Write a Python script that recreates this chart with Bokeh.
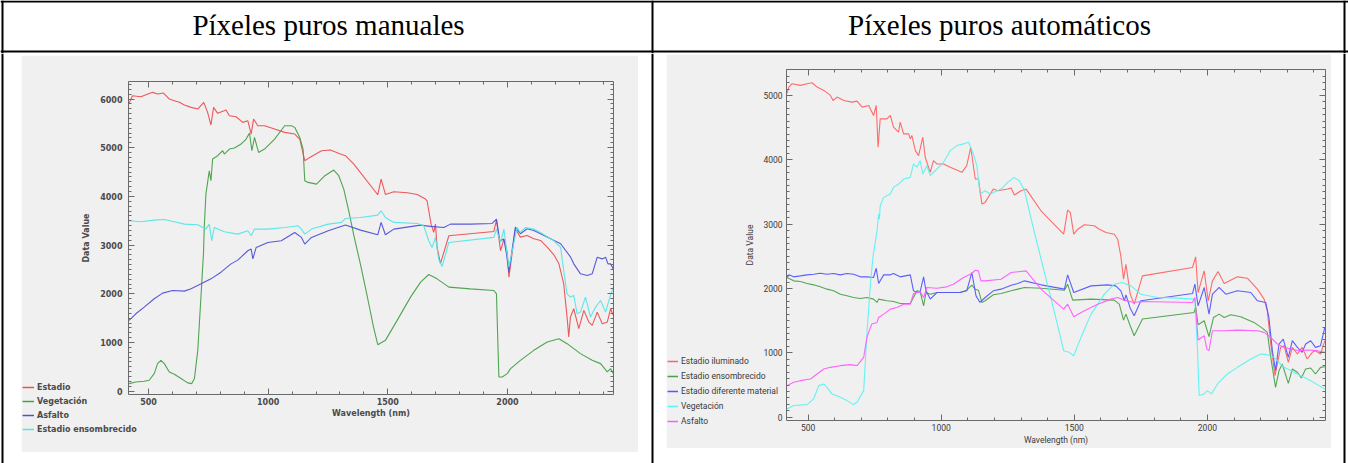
from bokeh.plotting import figure
from bokeh.models import (Range1d, Span, Label, Legend, LegendItem, LinearAxis, GridBox,
                          SingleIntervalTicker, CustomJSTickFormatter, Spacer)
from bokeh.layouts import row, column
from bokeh.embed import file_html
from bokeh.resources import INLINE

# ---------------- data (wavelength nm, data value) ----------------
HEADER_LEFT = "Píxeles puros manuales"
HEADER_RIGHT = "Píxeles puros automáticos"

L_NAMES = ["Estadio", "Vegetación", "Asfalto", "Estadio ensombrecido"]
R_NAMES = ["Estadio iluminado", "Estadio ensombrecido", "Estadio diferente material",
           "Vegetación", "Asfalto"]

L_ESTADIO = [(419,5911),(433,6068),(468,6048),(517,6137),(538,6103),(563,6123),(587,6000),(608,5966),
    (629,5932),(650,5877),(678,5829),(706,5795),(731,5932),(747,5726),(761,5466),(772,5829),(789,5706),
    (824,5774),(838,5658),(866,5637),(894,5521),(915,5555),(929,5281),(939,5589),(957,5452),(985,5452),
    (1027,5384),(1069,5315),(1111,5281),(1132,5178),(1153,4733),(1174,4801),(1223,4938),(1260,4952),
    (1302,4870),(1323,4836),(1358,4664),(1458,4034),(1472,4356),(1490,4041),(1525,4096),(1581,4075),
    (1623,4041),(1657,3945),(1664,3911),(1681,3425),(1692,3260),(1699,3432),(1706,2952),(1720,2620),
    (1755,3192),(1943,3281),(1954,3514),(1971,2884),(1985,3123),(1999,2849),(2006,2341),(2033,3336),
    (2054,3164),(2082,3198),(2110,3130),(2138,3096),(2166,2959),(2194,2800),(2215,2615),(2235,2205),
    (2249,1522),(2256,1112),(2263,1522),(2277,1693),(2298,1283),(2319,1659),(2340,1420),(2354,1351),
    (2375,1624),(2396,1385),(2417,1420),(2431,1693),(2442,1556)]

L_VEGETACION = [(419,156),(447,190),(482,204),(503,224),(524,361),(538,566),(552,634),(566,566),
    (587,395),(608,348),(636,259),(664,170),(681,156),(692,259),(706,839),(720,2000),(730,2850),
    (733,3363),(740,4048),(754,4527),(761,4322),(768,4767),(789,4836),(810,4938),(817,4870),(838,4973),
    (859,4993),(887,5075),(908,5178),(922,5300),(932,4938),(943,5212),(960,4904),(985,4973),(1027,5178),
    (1069,5452),(1097,5452),(1111,5418),(1132,5212),(1146,4973),(1153,4322),(1167,4288),(1202,4253),
    (1237,4425),(1274,4541),(1295,4425),(1316,4150),(1337,3700),(1358,3200),(1386,2600),(1414,1950),
    (1441,1300),(1458,955),(1490,1044),(1539,1454),(1595,1932),(1637,2239),(1671,2396),(1706,2307),
    (1755,2137),(1845,2102),(1943,2068),(1954,2000),(1964,292),(1978,292),(1999,361),(2013,463),
    (2054,634),(2110,839),(2166,1010),(2215,1078),(2249,976),(2305,771),(2354,634),(2389,566),
    (2417,395),(2431,463),(2442,361)]

L_ASFALTO = [(419,1454),(447,1590),(482,1727),(524,1898),(559,2014),(601,2068),(650,2055),(678,2102),
    (720,2205),(761,2307),(803,2444),(845,2615),(873,2692),(915,2884),(929,2918),(936,2717),(950,2952),
    (999,3055),(1055,3089),(1111,3260),(1139,3158),(1153,3021),(1181,3158),(1251,3294),(1323,3411),
    (1386,3308),(1458,3212),(1472,3466),(1490,3212),(1525,3329),(1637,3411),(1678,3384),(1734,3363),
    (1762,3431),(1845,3431),(1936,3445),(1954,3534),(1968,3089),(1985,3123),(1996,2815),(2006,2444),
    (2033,3370),(2054,3233),(2082,3336),(2110,3301),(2138,3233),(2180,3130),(2222,3028),(2263,2760),
    (2277,2615),(2305,2410),(2333,2376),(2354,2410),(2375,2751),(2396,2717),(2410,2751),(2420,2615),
    (2431,2615),(2442,2512)]

L_ENSOMBRECIDO = [(419,3500),(468,3479),(524,3514),(566,3527),(608,3479),(650,3431),(706,3418),
    (740,3329),(754,3431),(764,3089),(775,3363),(817,3274),(873,3226),(915,3294),(929,3192),(943,3329),
    (999,3329),(1069,3363),(1125,3397),(1139,3329),(1153,3226),(1181,3329),(1251,3431),(1307,3466),
    (1323,3548),(1386,3568),(1458,3616),(1472,3705),(1490,3568),(1525,3466),(1623,3445),(1650,3397),
    (1671,3089),(1685,2952),(1699,3158),(1713,2700),(1727,2560),(1755,3055),(1943,3158),(1954,3329),
    (1971,3055),(1985,3329),(2006,2546),(2040,3363),(2054,3260),(2075,3363),(2110,3329),(2138,3260),
    (2194,3089),(2222,2952),(2235,2478),(2249,2000),(2263,1932),(2277,1966),(2291,1590),(2305,1624),
    (2326,1932),(2347,1522),(2368,1727),(2389,1863),(2410,1624),(2428,1932),(2442,2137)]

R_ILUMINADO = [(421,5036),(428,5130),(440,5182),(471,5156),(496,5182),(515,5197),(534,5130),(559,5078),
    (584,5000),(594,4922),(609,4974),(634,4922),(665,4896),(684,4912),(703,4818),(728,4844),(746,4688),
    (756,4844),(763,4195),(771,4636),(796,4636),(809,4688),(821,4506),(840,4429),(846,4584),(859,4403),
    (878,4403),(884,4325),(890,4377),(903,4143),(915,4065),(921,4169),(931,4351),(940,4039),(959,3805),
    (971,3987),(984,3935),(1009,3935),(1034,3883),(1078,3805),(1096,3909),(1111,4195),(1128,3701),
    (1140,3701),(1153,3312),(1165,3338),(1196,3546),(1213,3519),(1250,3545),(1263,3561),(1275,3452),
    (1300,3519),(1319,3545),(1375,3208),(1460,2844),(1475,3218),(1485,3182),(1498,2844),(1513,2922),
    (1538,2990),(1575,2974),(1594,2922),(1619,2870),(1650,2844),(1663,2766),(1675,2500),(1685,2145),
    (1694,2377),(1710,1912),(1725,1757),(1756,2196),(1944,2326),(1956,2491),(1965,1938),(1988,2274),
    (2003,1809),(2019,2119),(2040,2264),(2063,2078),(2113,2181),(2150,2160),(2188,1990),(2213,1835),
    (2225,1654),(2238,1137),(2254,646),(2275,1085),(2288,1111),(2304,853),(2319,1085),(2338,982),
    (2356,1085),(2375,904),(2394,1008),(2406,1034),(2425,982),(2441,1189)]

R_ENSOMBRECIDO = [(421,2171),(446,2119),(471,2109),(496,2078),(521,2057),(546,2026),(571,1990),
    (596,1964),(621,1912),(646,1886),(671,1860),(696,1845),(721,1860),(746,1835),(759,1783),(765,1835),
    (796,1809),(821,1798),(846,1767),(884,1767),(896,1860),(909,1964),(921,1953),(934,1731),(943,1938),
    (959,1912),(984,1938),(1071,1938),(1096,1974),(1115,2052),(1128,1990),(1140,1974),(1153,1783),
    (1165,1809),(1196,1902),(1225,1922),(1263,1964),(1288,1990),(1313,2016),(1375,2005),(1463,1974),
    (1475,2067),(1494,1819),(1563,1835),(1650,1819),(1669,1757),(1685,1509),(1694,1602),(1710,1421),
    (1725,1266),(1756,1525),(1950,1628),(1956,1716),(1965,1437),(1988,1499),(2006,1251),(2023,1550),
    (2044,1602),(2063,1550),(2088,1592),(2125,1561),(2175,1473),(2206,1385),(2225,1318),(2238,930),
    (2256,465),(2269,723),(2281,827),(2304,527),(2319,749),(2338,698),(2353,610),(2369,749),(2388,765),
    (2406,672),(2425,775),(2441,785)]

R_DIFERENTE = [(421,2171),(428,2212),(446,2181),(471,2196),(496,2212),(521,2222),(546,2238),(571,2222),
    (596,2233),(621,2212),(646,2233),(671,2222),(696,2181),(721,2181),(746,2171),(756,2315),(765,2078),
    (784,2212),(809,2212),(821,2233),(846,2181),(884,2212),(896,1964),(909,1938),(921,1953),(934,2181),
    (943,1964),(959,1835),(984,1938),(1071,1938),(1096,1964),(1115,2248),(1131,1886),(1146,1783),
    (1165,1860),(1196,1964),(1225,1990),(1263,2052),(1288,2078),(1313,2119),(1375,2057),(1463,1990),
    (1475,2212),(1498,1938),(1563,2041),(1625,2057),(1656,2041),(1675,1964),(1688,1809),(1694,1902),
    (1710,1695),(1725,1576),(1750,1809),(1944,1922),(1953,2067),(1965,1731),(1988,2016),(2006,1602),
    (2019,1912),(2044,2016),(2069,1912),(2113,1964),(2163,1938),(2188,1809),(2219,1783),(2231,1550),
    (2244,1034),(2256,723),(2269,1137),(2285,1214),(2304,930),(2319,1189),(2338,1085),(2356,1008),
    (2369,1137),(2388,1189),(2406,1085),(2425,1111),(2441,1395)]

R_VEGETACION = [(421,129),(446,181),(496,196),(521,284),(540,491),(559,517),(571,465),(590,362),
    (621,310),(646,258),(671,196),(684,232),(709,413),(721,1292),(734,2067),(744,2500),(759,2896),
    (765,3156),(768,3078),(771,3286),(784,3416),(809,3468),(821,3571),(840,3623),(859,3701),(884,3727),
    (896,3935),(909,3883),(921,3987),(931,3779),(946,3909),(959,3753),(984,3857),(1009,3961),(1034,4143),
    (1059,4221),(1084,4247),(1103,4273),(1121,4091),(1134,3909),(1146,3468),(1165,3519),(1184,3468),
    (1225,3545),(1250,3649),(1273,3727),(1294,3675),(1313,3519),(1338,3080),(1363,2660),(1400,2050),
    (1438,1420),(1460,1034),(1481,1008),(1498,956),(1525,1240),(1563,1602),(1613,1912),(1650,2067),
    (1681,2093),(1713,2041),(1750,1912),(1813,1860),(1888,1850),(1953,1835),(1963,1034),(1969,336),
    (1988,362),(2000,413),(2015,362),(2038,517),(2075,672),(2113,775),(2163,904),(2200,982),(2225,972),
    (2250,930),(2288,775),(2338,672),(2388,568),(2419,491),(2441,439)]

R_ASFALTO = [(421,491),(446,543),(471,568),(509,594),(534,672),(559,749),(584,775),(621,801),(659,817),
    (684,801),(709,930),(721,1240),(739,1447),(759,1473),(765,1550),(784,1602),(809,1680),(834,1705),
    (859,1757),(884,1757),(896,1922),(909,1938),(921,1953),(934,1860),(946,2016),(984,2005),(1021,2026),
    (1046,2067),(1084,2171),(1115,2233),(1128,2284),(1140,2274),(1149,2119),(1165,2119),(1225,2145),
    (1263,2248),(1319,2274),(1375,1990),(1460,1680),(1475,1757),(1498,1561),(1538,1654),(1588,1757),
    (1638,1835),(1663,1860),(1688,1819),(1725,1783),(1750,1798),(1944,1783),(1953,1860),(1965,1199),
    (1988,1266),(1998,1059),(2006,1034),(2019,1344),(2063,1344),(2113,1354),(2188,1344),(2213,1318),
    (2238,1240),(2263,1137),(2288,1085),(2313,1059),(2344,1034),(2375,1044),(2413,1034),(2441,1008)]

L_SERIES = [L_ESTADIO, L_VEGETACION, L_ASFALTO, L_ENSOMBRECIDO]
L_COLORS = ["#ec5052", "#47a047", "#5050dc", "#55e6e6"]
R_SERIES = [R_ILUMINADO, R_ENSOMBRECIDO, R_DIFERENTE, R_VEGETACION, R_ASFALTO]
R_COLORS = ["#ff6464", "#4aa34a", "#5656ff", "#5cf2f2", "#ff5cff"]

X_LABEL = "Wavelength (nm)"
Y_LABEL = "Data Value"

BG = "#f0f0f0"
AX = "#6a6a6a"


def blank(w, h, xr, yr, fill="white"):
    p = figure(width=w, height=h, x_range=Range1d(*xr), y_range=Range1d(*yr),
               output_backend="svg", toolbar_location=None,
               x_axis_location=None, y_axis_location=None, min_border=0)
    p.outline_line_color = None
    p.xgrid.visible = False
    p.ygrid.visible = False
    p.background_fill_color = fill
    p.border_fill_color = fill
    return p


def vline(p, x):
    p.add_layout(Span(location=x, dimension="height", line_color="black", line_width=2))


def hline(p, y):
    p.add_layout(Span(location=y, dimension="width", line_color="black", line_width=2))


def style_axis(ax, font, size, style, color, tick_in, minor_in):
    ax.axis_line_color = AX
    ax.major_tick_line_color = AX
    ax.minor_tick_line_color = AX
    ax.major_tick_in = tick_in
    ax.major_tick_out = 0
    ax.minor_tick_in = minor_in
    ax.minor_tick_out = 0
    ax.major_label_text_font = font
    ax.major_label_text_font_size = size
    ax.major_label_text_font_style = style
    ax.major_label_text_color = color
    ax.axis_label_text_font = font
    ax.axis_label_text_font_size = size
    ax.axis_label_text_font_style = style
    ax.axis_label_text_color = color


def spectral(w, h, borders, xr, yr, series, colors, font, size, style, color,
             ystand, ylabstand, xstand):
    bl, bt, br, bb = borders
    p = figure(width=w, height=h, x_range=Range1d(*xr), y_range=Range1d(*yr),
               output_backend="svg", toolbar_location=None,
               min_border_left=bl, min_border_top=bt, min_border_right=br, min_border_bottom=bb)
    p.background_fill_color = BG
    p.border_fill_color = BG
    p.outline_line_color = None
    p.xgrid.visible = False
    p.ygrid.visible = False

    p.xaxis.ticker = SingleIntervalTicker(interval=500, num_minor_ticks=5)
    p.yaxis.ticker = SingleIntervalTicker(interval=1000, num_minor_ticks=10)
    p.xaxis.axis_label = X_LABEL
    p.yaxis.axis_label = Y_LABEL
    for ax in list(p.xaxis) + list(p.yaxis):
        style_axis(ax, font, size, style, color, 6, 3)
    p.yaxis.major_label_standoff = ystand
    p.yaxis.axis_label_standoff = ylabstand
    p.xaxis.major_label_standoff = xstand
    p.xaxis.axis_label_standoff = 1

    empty = CustomJSTickFormatter(code="return ''")
    top = LinearAxis(ticker=SingleIntervalTicker(interval=500, num_minor_ticks=5), formatter=empty)
    right = LinearAxis(ticker=SingleIntervalTicker(interval=1000, num_minor_ticks=10), formatter=empty)
    for ax in (top, right):
        style_axis(ax, font, size, style, color, 6, 3)
        ax.major_label_standoff = 0
    p.add_layout(top, "above")
    p.add_layout(right, "right")

    for data, c in zip(series, colors):
        xs = [d[0] for d in data]
        ys = [d[1] for d in data]
        p.line(xs, ys, line_color=c, line_width=1.1, line_alpha=0.95)
    return p


def legend_overlay(w, h, series, colors, names, loc, spacing, glyph_w, font, size, style, color):
    # transparent figure (frame = whole canvas) stacked over the plot; it holds only the legend.
    # Its renderers carry the series (hidden) so that the legend can draw their line samples.
    lf = figure(width=w, height=h, x_range=Range1d(0, 1), y_range=Range1d(0, 1),
                output_backend="svg", toolbar_location=None,
                x_axis_location=None, y_axis_location=None, min_border=0)
    lf.outline_line_color = None
    lf.xgrid.visible = False
    lf.ygrid.visible = False
    lf.background_fill_color = None
    lf.border_fill_color = None
    items = []
    for data, c, name in zip(series, colors, names):
        xs = [d[0] for d in data]
        ys = [d[1] for d in data]
        r = lf.line(xs, ys, line_color=c, line_width=1.5, visible=False)
        items.append(LegendItem(label=name, renderers=[r]))
    leg = Legend(items=items, location=loc, orientation="vertical", margin=0, padding=0,
                 spacing=spacing, glyph_width=glyph_w, glyph_height=10, label_height=10,
                 label_standoff=3, label_text_font=font, label_text_font_size=size,
                 label_text_font_style=style, label_text_color=color,
                 background_fill_alpha=0, border_line_color=None,
                 inactive_fill_alpha=0, click_policy="none")
    lf.add_layout(leg)
    return lf


# ---------------- header row ----------------
W = 1348
header = blank(W, 53, (0, W), (53, 0))
for x in (2, 652, 1344):
    vline(header, x)
for y in (1, 51):
    hline(header, y)
for txt, cx in ((HEADER_LEFT, 328), (HEADER_RIGHT, 999)):
    header.add_layout(Label(x=cx, y=24, text=txt, text_font="Liberation Serif",
                            text_font_size="29px", text_align="center",
                            text_baseline="alphabetic", text_color="black"))

# ---------------- body row ----------------
BODY_H = 410
lm = blank(21, BODY_H, (0, 21), (0, BODY_H))
vline(lm, 2)
mid = blank(28, BODY_H, (0, 28), (0, BODY_H))
vline(mid, 14)
rm = blank(17, BODY_H, (0, 17), (0, BODY_H))
vline(rm, 13)

LFONT = ("DejaVu Sans", "8px", "bold", "#4a4a4a")
RFONT = ("Roboto", "8.5px", "normal", "#3a3a3a")

left_plot = spectral(617, 397, (107, 26, 25, 58), (416.5, 2443), (-68, 6360),
                     L_SERIES, L_COLORS, *LFONT, 6, 6, 3)
left_leg = legend_overlay(617, 397, L_SERIES, L_COLORS, L_NAMES, (1, 18), 4, 12, *LFONT)

right_plot = spectral(665, 394, (120, 15, 6, 28), (419, 2443.6), (-51, 5403),
                      R_SERIES, R_COLORS, *RFONT, 4, 5, 3)
right_leg = legend_overlay(665, 394, R_SERIES, R_COLORS, R_NAMES, (1, 22), 5, 11, *RFONT)

# the legend figure is wrapped in a column so that the grid does not align its frame
left_stack = GridBox(children=[(left_plot, 0, 0), (column(left_leg), 0, 0)])
right_stack = GridBox(children=[(right_plot, 0, 0), (column(right_leg), 0, 0)])

left_col = column(Spacer(width=617, height=2), left_stack, Spacer(width=617, height=11))
right_col = column(Spacer(width=665, height=1), right_stack, Spacer(width=665, height=15))

body = row(lm, left_col, mid, right_col, rm)
page = column(header, body)

open("out.html", "w").write(file_html(page, INLINE))
